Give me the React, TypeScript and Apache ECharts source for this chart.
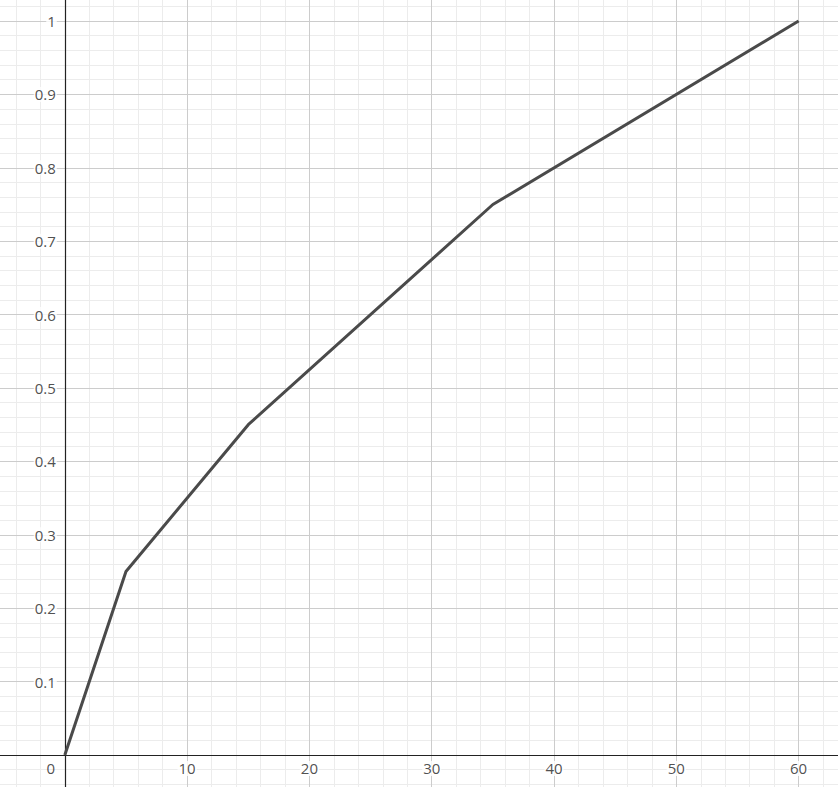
import React, { useEffect, useRef } from "react";
import * as echarts from "echarts";

const xPoints = [0, 5, 15, 35, 60];
const yPoints = [0, 0.25, 0.45, 0.75, 1];
const xMajorTicks = [10, 20, 30, 40, 50, 60];
const yMajorTicks = [0.1, 0.2, 0.3, 0.4, 0.5, 0.6, 0.7, 0.8, 0.9, 1];
const xMinorTicks = [-4, -2, 2, 4, 6, 8, 12, 14, 16, 18, 22, 24, 26, 28, 32, 34, 36, 38, 42, 44, 46, 48, 52, 54, 56, 58, 62];
const yMinorTicks = [-0.04, -0.02, 0.02, 0.04, 0.06, 0.08, 0.12, 0.14, 0.16, 0.18, 0.22, 0.24, 0.26, 0.28, 0.32, 0.34, 0.36, 0.38, 0.42, 0.44, 0.46, 0.48, 0.52, 0.54, 0.56, 0.58, 0.62, 0.64, 0.66, 0.68, 0.72, 0.74, 0.76, 0.78, 0.82, 0.84, 0.86, 0.88, 0.92, 0.94, 0.96, 0.98, 1.02];
const xLabels = ["10", "20", "30", "40", "50", "60"];
const yLabels = ["0.1", "0.2", "0.3", "0.4", "0.5", "0.6", "0.7", "0.8", "0.9", "1"];

const FONT = "'Open Sans', sans-serif";
const LABEL_COLOR = "#222";
const LABEL_SIZE = 15;

const labelStyle = {
  color: LABEL_COLOR,
  fontSize: LABEL_SIZE,
  fontFamily: FONT,
  fontWeight: 400,
};

export default function App() {
  const ref = useRef<HTMLDivElement>(null);
  useEffect(() => {
    if (!ref.current) return;
    const chart = echarts.init(ref.current, null, { renderer: "svg" });
    const gridLines = (xs: number[], ys: number[], color: string, width: number, z: number, name: string) => ({
      type: "line",
      name,
      data: [[0, 0]],
      symbol: "none",
      lineStyle: { opacity: 0 },
      silent: true,
      z,
      markLine: {
        silent: true,
        symbol: "none",
        label: { show: false },
        animation: false,
        lineStyle: { color, width, type: "solid" },
        emphasis: { disabled: true },
        data: [...xs.map((v) => ({ xAxis: v })), ...ys.map((v) => ({ yAxis: v }))],
      },
    });
    const labelSeries = (name: string, data: any[], position: string, distance: number, offset: number[], bg: boolean) => ({
      type: "scatter",
      name,
      symbolSize: 0,
      silent: true,
      z: 10,
      data,
      label: {
        show: true,
        position,
        distance,
        offset,
        formatter: (p: any) => p.name,
        ...labelStyle,
        backgroundColor: bg ? "#fff" : "transparent",
        padding: [0, 1],
      },
    });
    chart.setOption({
      animation: false,
      textStyle: { fontFamily: FONT, fontSize: LABEL_SIZE, color: LABEL_COLOR },
      grid: { left: 0, right: 0, top: 0, bottom: 0 },
      xAxis: {
        type: "value",
        min: -5.3,
        max: 63.22,
        show: false,
        splitLine: { show: false },
      },
      yAxis: {
        type: "value",
        min: -0.0436,
        max: 1.0286,
        show: false,
        splitLine: { show: false },
      },
      series: [
        gridLines(xMinorTicks, yMinorTicks, "#ececec", 1, 1, "minor"),
        gridLines(xMajorTicks, yMajorTicks, "#cccccc", 1, 2, "major"),
        gridLines([0], [0], "#222222", 1.2, 3, "axes"),
        labelSeries(
          "xlabels",
          xMajorTicks.map((v, i) => ({ value: [v, 0], name: xLabels[i] })),
          "bottom",
          6,
          [0, 0],
          true
        ),
        labelSeries(
          "ylabels",
          yMajorTicks.map((v, i) => ({ value: [0, v], name: yLabels[i] })),
          "left",
          8,
          [0, 0],
          true
        ),
        labelSeries("origin", [{ value: [0, 0], name: "0" }], "bottom", 6, [-14, 0], false),
        {
          type: "line",
          name: "f",
          data: xPoints.map((x, i) => [x, yPoints[i]]),
          symbol: "none",
          z: 5,
          lineStyle: { color: "#4a4a4a", width: 3 },
        },
      ],
    });
    return () => chart.dispose();
  }, []);
  return <div ref={ref} style={{ width: 838, height: 787, position: "absolute", left: 0, top: 0 }} />;
}
